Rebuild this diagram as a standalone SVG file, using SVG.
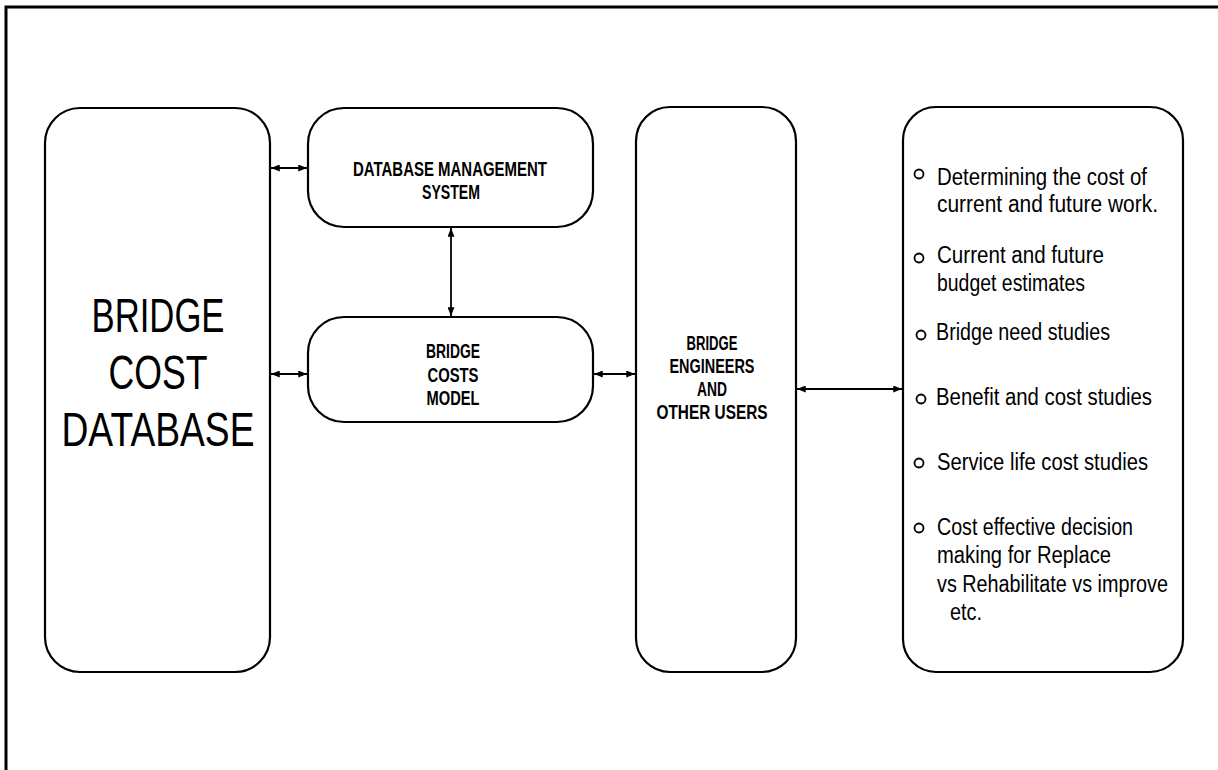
<svg xmlns="http://www.w3.org/2000/svg" width="1218" height="770" viewBox="0 0 1218 770">
<style>
.box{fill:none;stroke:#000;stroke-width:2.2}
.con{stroke:#000;stroke-width:1.8;fill:none}
.big{font-family:"Liberation Sans",Arial,sans-serif;font-size:49px;text-anchor:middle;fill:#000}
.lbl{font-family:"Liberation Sans",Arial,sans-serif;font-size:20px;font-weight:bold;text-anchor:middle;fill:#000}
.itm{font-family:"Liberation Sans",Arial,sans-serif;font-size:23px;fill:#000}
.bul{fill:none;stroke:#000;stroke-width:1.8}
</style>
<defs>
<marker id="ah" viewBox="0 0 10 8" refX="10" refY="4" markerWidth="9" markerHeight="7" markerUnits="userSpaceOnUse" orient="auto-start-reverse">
<path d="M0,0 L10,4 L0,8 Z" fill="#000"/>
</marker>
</defs>
<rect width="1218" height="770" fill="#fff"/>
<path d="M6,770 V7 H1218" fill="none" stroke="#000" stroke-width="3"/>

<g id="bridge-cost-database">
<rect class="box" x="45" y="108" width="225" height="564" rx="35" ry="35"/>
<text class="big" x="158" y="332" textLength="133" lengthAdjust="spacingAndGlyphs">BRIDGE</text>
<text class="big" x="158" y="389" textLength="99" lengthAdjust="spacingAndGlyphs">COST</text>
<text class="big" x="158" y="446" textLength="193" lengthAdjust="spacingAndGlyphs">DATABASE</text>
</g>

<g id="dbms">
<rect class="box" x="308" y="108" width="285" height="119" rx="36" ry="36"/>
<text class="lbl" x="450" y="176" textLength="194" lengthAdjust="spacingAndGlyphs">DATABASE MANAGEMENT</text>
<text class="lbl" x="451" y="199" textLength="58" lengthAdjust="spacingAndGlyphs">SYSTEM</text>
</g>

<g id="bridge-costs-model">
<rect class="box" x="308" y="317" width="285" height="105" rx="36" ry="36"/>
<text class="lbl" x="453" y="358" textLength="54" lengthAdjust="spacingAndGlyphs">BRIDGE</text>
<text class="lbl" x="453" y="382" textLength="51" lengthAdjust="spacingAndGlyphs">COSTS</text>
<text class="lbl" x="453" y="405" textLength="53" lengthAdjust="spacingAndGlyphs">MODEL</text>
</g>

<g id="users">
<rect class="box" x="636" y="107" width="160" height="565" rx="34" ry="34"/>
<text class="lbl" x="712" y="350" textLength="51" lengthAdjust="spacingAndGlyphs">BRIDGE</text>
<text class="lbl" x="712" y="373" textLength="85" lengthAdjust="spacingAndGlyphs">ENGINEERS</text>
<text class="lbl" x="712" y="396" textLength="30" lengthAdjust="spacingAndGlyphs">AND</text>
<text class="lbl" x="712" y="419" textLength="111" lengthAdjust="spacingAndGlyphs">OTHER USERS</text>
</g>

<g id="uses">
<rect class="box" x="903" y="107" width="280" height="565" rx="33" ry="33"/>
<circle class="bul" cx="919" cy="174" r="4.5"/>
<text class="itm" x="937" y="185" textLength="210" lengthAdjust="spacingAndGlyphs">Determining the cost of</text>
<text class="itm" x="937" y="212" textLength="221" lengthAdjust="spacingAndGlyphs">current and future work.</text>
<circle class="bul" cx="919" cy="258" r="4.5"/>
<text class="itm" x="937" y="263" textLength="167" lengthAdjust="spacingAndGlyphs">Current and future</text>
<text class="itm" x="937" y="291" textLength="148" lengthAdjust="spacingAndGlyphs">budget estimates</text>
<circle class="bul" cx="921" cy="335" r="4.5"/>
<text class="itm" x="936" y="340" textLength="174" lengthAdjust="spacingAndGlyphs">Bridge need studies</text>
<circle class="bul" cx="921" cy="399" r="4.5"/>
<text class="itm" x="936" y="405" textLength="216" lengthAdjust="spacingAndGlyphs">Benefit and cost studies</text>
<circle class="bul" cx="919" cy="463" r="4.5"/>
<text class="itm" x="937" y="470" textLength="211" lengthAdjust="spacingAndGlyphs">Service life cost studies</text>
<circle class="bul" cx="919" cy="528" r="4.5"/>
<text class="itm" x="937" y="535" textLength="196" lengthAdjust="spacingAndGlyphs">Cost effective decision</text>
<text class="itm" x="937" y="563" textLength="174" lengthAdjust="spacingAndGlyphs">making for Replace</text>
<text class="itm" x="937" y="592" textLength="231" lengthAdjust="spacingAndGlyphs">vs Rehabilitate vs improve</text>
<text class="itm" x="950" y="620" textLength="32" lengthAdjust="spacingAndGlyphs">etc.</text>
</g>

<g id="connectors">
<line class="con" x1="271" y1="168" x2="307" y2="168" marker-start="url(#ah)" marker-end="url(#ah)"/>
<line class="con" x1="271" y1="374" x2="307" y2="374" marker-start="url(#ah)" marker-end="url(#ah)"/>
<line class="con" x1="451" y1="228" x2="451" y2="316" marker-start="url(#ah)" marker-end="url(#ah)"/>
<line class="con" x1="594" y1="374" x2="635" y2="374" marker-start="url(#ah)" marker-end="url(#ah)"/>
<line class="con" x1="797" y1="389" x2="902" y2="389" marker-start="url(#ah)" marker-end="url(#ah)"/>
</g>
</svg>
